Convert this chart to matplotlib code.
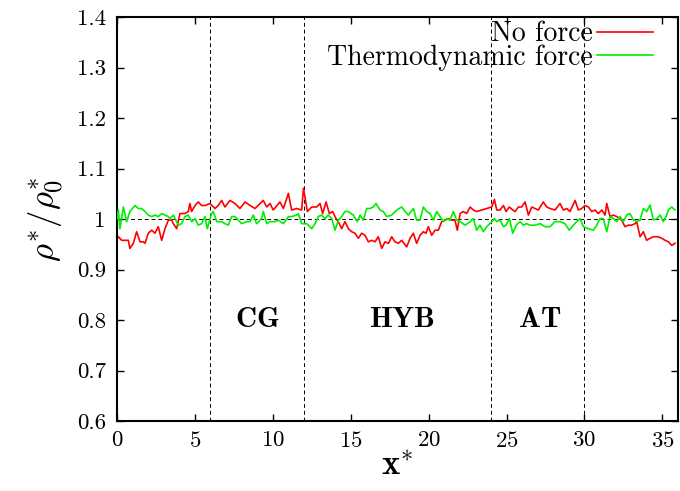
import matplotlib
matplotlib.use("Agg")
import matplotlib.pyplot as plt

plt.rcParams['font.family'] = 'serif'
plt.rcParams['font.serif'] = ['cmr10']
plt.rcParams['mathtext.fontset'] = 'cm'
plt.rcParams['axes.formatter.use_mathtext'] = True

# No force (red)
x_noforce = [0.0, 0.1, 0.3, 0.5, 0.73, 0.83, 1.05, 1.26, 1.48, 1.69, 1.80, 2.01, 2.23, 2.44,
             2.65, 2.87, 3.08, 3.30, 3.51, 3.62, 3.83, 4.04, 4.36, 4.58, 4.68, 4.79, 5.01,
             5.22, 5.43, 5.65, 5.97, 6.29, 6.50, 6.72, 6.93, 7.25, 7.57, 7.89, 8.22, 8.54,
             8.86, 9.39, 9.61, 9.82, 10.03, 10.46, 10.68, 11.0, 11.21, 11.53, 11.85, 11.97,
             12.22, 12.50, 12.82, 13.03, 13.20, 13.42, 13.63, 13.84, 14.06, 14.27, 14.42,
             14.63, 14.85, 15.06, 15.28, 15.49, 15.70, 15.92, 16.13, 16.35, 16.56, 16.77,
             16.99, 17.20, 17.42, 17.63, 17.84, 18.06, 18.27, 18.59, 18.81, 19.02, 19.23,
             19.45, 19.66, 19.83, 19.98, 20.20, 20.41, 20.62, 20.84, 21.05, 21.27, 21.48,
             21.69, 21.84, 22.02, 22.23, 22.44, 22.66, 22.87, 23.08, 23.40, 23.73, 24.05,
             24.22, 24.37, 24.58, 24.80, 24.97, 25.18, 25.40, 25.55, 25.76, 25.97, 26.19,
             26.40, 26.62, 26.83, 27.04, 27.36, 27.58, 27.79, 28.11, 28.43, 28.65, 28.86,
             29.07, 29.40, 29.61, 29.82, 30.04, 30.25, 30.47, 30.68, 30.89, 31.11, 31.32,
             31.43, 31.64, 31.86, 32.07, 32.39, 32.60, 32.82, 33.03, 33.25, 33.35, 33.57,
             33.78, 33.99, 34.21, 34.42, 34.74, 34.96, 35.17, 35.38, 35.60, 35.81]
y_noforce = [0.96, 0.965, 0.958, 0.958, 0.958, 0.942, 0.952, 0.975, 0.955, 0.955, 0.952, 0.972,
             0.978, 0.972, 0.985, 0.958, 0.981, 0.998, 0.998, 0.991, 0.981, 1.011, 1.011,
             1.015, 1.031, 1.015, 1.027, 1.034, 1.027, 1.027, 1.031, 1.021, 1.027, 1.037,
             1.024, 1.037, 1.031, 1.021, 1.034, 1.027, 1.021, 1.037, 1.024, 1.031, 1.018,
             1.034, 1.021, 1.051, 1.018, 1.021, 1.018, 1.061, 1.015, 1.024, 1.024, 1.031,
             1.011, 1.034, 1.011, 1.015, 1.001, 0.991, 0.981, 0.995, 0.981, 0.975, 0.972,
             0.962, 0.972, 0.968, 0.955, 0.958, 0.955, 0.965, 0.942, 0.955, 0.952, 0.965,
             0.955, 0.952, 0.958, 0.945, 0.962, 0.972, 0.952, 0.968, 0.975, 0.972, 0.985,
             0.968, 0.978, 0.978, 0.995, 0.998, 1.001, 0.998, 0.998, 0.978, 1.011, 1.015,
             1.011, 1.024, 1.018, 1.015, 1.018, 1.021, 1.024, 1.039, 1.018, 1.018, 1.027,
             1.015, 1.024, 1.018, 1.015, 1.024, 1.024, 1.034, 1.008, 1.024, 1.021, 1.018,
             1.034, 1.024, 1.021, 1.018, 1.031, 1.018, 1.021, 1.015, 1.037, 1.018, 1.021,
             1.027, 1.024, 1.015, 1.018, 1.011, 1.018, 1.008, 1.031, 1.005, 1.008, 1.005,
             0.998, 0.985, 0.988, 0.988, 0.991, 0.995, 0.965, 0.975, 0.958, 0.962, 0.965,
             0.965, 0.962, 0.958, 0.955, 0.948, 0.952]

# Thermodynamic force (green)
x_thermo = [0.0, 0.09, 0.19, 0.41, 0.62, 0.83, 1.16, 1.37, 1.58, 1.80, 2.01, 2.23, 2.44, 2.65,
            2.87, 3.08, 3.30, 3.40, 3.62, 3.94, 4.15, 4.36, 4.58, 4.79, 5.01, 5.22, 5.43,
            5.65, 5.80, 6.07, 6.18, 6.40, 6.72, 6.93, 7.15, 7.36, 7.57, 7.79, 8.00, 8.32,
            8.54, 8.75, 8.96, 9.28, 9.39, 9.61, 9.82, 10.14, 10.35, 10.68, 11.0, 11.21,
            11.53, 11.64, 11.85, 12.17, 12.28, 12.50, 12.71, 12.92, 13.14, 13.35, 13.56,
            13.78, 13.99, 14.21, 14.42, 14.63, 14.85, 15.17, 15.42, 15.60, 15.81, 16.02,
            16.24, 16.45, 16.62, 16.88, 17.09, 17.31, 17.63, 17.95, 18.27, 18.49, 18.70,
            19.02, 19.23, 19.45, 19.66, 19.88, 20.09, 20.30, 20.52, 20.73, 20.95, 21.16,
            21.37, 21.59, 21.80, 22.02, 22.34, 22.66, 22.87, 23.08, 23.30, 23.51, 23.73,
            24.05, 24.22, 24.37, 24.58, 24.80, 24.97, 25.18, 25.40, 25.62, 25.87, 26.08,
            26.29, 26.51, 26.83, 27.15, 27.47, 27.79, 28.11, 28.43, 28.75, 29.03, 29.29,
            29.50, 29.72, 29.93, 30.25, 30.57, 30.79, 31.00, 31.21, 31.43, 31.64, 31.86,
            32.07, 32.28, 32.50, 32.71, 32.92, 33.14, 33.35, 33.57, 33.78, 33.99, 34.21,
            34.42, 34.64, 34.85, 35.06, 35.28, 35.38, 35.60, 35.81]
y_thermo = [1.0, 1.018, 0.981, 1.024, 0.995, 1.015, 1.027, 1.021, 1.021, 1.015, 1.008, 1.005,
            1.008, 1.005, 1.011, 1.008, 1.005, 1.001, 1.008, 0.988, 0.991, 1.005, 1.008,
            0.995, 1.001, 0.988, 0.991, 1.005, 0.981, 1.011, 1.015, 0.995, 0.995, 0.991,
            0.988, 1.005, 1.005, 0.998, 0.991, 0.995, 0.995, 1.008, 0.991, 1.001, 1.015,
            0.991, 0.995, 0.995, 0.998, 0.991, 1.005, 1.005, 1.008, 1.011, 0.991, 0.991,
            0.988, 0.981, 0.991, 1.005, 1.008, 1.001, 1.008, 1.001, 0.978, 0.998, 1.005,
            1.015, 1.015, 1.008, 0.995, 1.008, 0.998, 1.021, 1.021, 1.024, 1.031, 1.018,
            1.015, 1.005, 1.008, 1.018, 1.024, 1.015, 1.008, 1.021, 0.998, 0.998, 1.024,
            1.015, 1.011, 0.998, 1.015, 1.005, 0.995, 1.001, 0.998, 1.015, 0.998, 0.995,
            0.988, 0.995, 1.001, 0.978, 0.988, 0.975, 0.985, 0.995, 1.001, 0.995, 0.998,
            0.985, 0.988, 1.001, 0.972, 0.988, 0.995, 0.988, 0.991, 0.988, 0.988, 0.991,
            0.985, 0.985, 0.995, 0.995, 0.991, 0.978, 0.988, 0.995, 1.001, 0.985, 0.981,
            0.978, 0.988, 1.001, 1.001, 0.975, 1.005, 1.001, 0.995, 1.005, 0.995, 1.008,
            1.011, 0.998, 0.995, 0.998, 1.021, 1.015, 1.028, 0.998, 1.001, 1.008, 0.995,
            1.008, 1.018, 1.024, 1.018]

region_bounds = [6, 12, 24, 30]
region_names = ['CG', 'HYB', 'AT']
region_x = [9.0, 18.3, 27.1]
region_y = 0.80

xticks = [0, 5, 10, 15, 20, 25, 30, 35]
yticks = [0.6, 0.7, 0.8, 0.9, 1.0, 1.1, 1.2, 1.3, 1.4]
yticklabels = ['0.6', '0.7', '0.8', '0.9', '1', '1.1', '1.2', '1.3', '1.4']

fig = plt.figure(figsize=(6.8, 4.91), dpi=100)
ax = fig.add_axes([0.172, 0.1425, 0.825, 0.8225])

ax.axhline(1.0, color='black', lw=0.7, ls=(0, (4, 3)), zorder=1)
for b in region_bounds:
    ax.axvline(b, color='black', lw=0.7, ls=(0, (4, 3)), zorder=1)

ax.plot(x_noforce, y_noforce, color='#ff0000', lw=1.2, label='No force', zorder=2)
ax.plot(x_thermo, y_thermo, color='#00ee00', lw=1.2, label='Thermodynamic force', zorder=3)

for name, xc in zip(region_names, region_x):
    ax.text(xc, region_y, r'$\mathbf{%s}$' % name, ha='center', va='center', fontsize=21)

ax.set_xlim(0, 36)
ax.set_ylim(0.6, 1.4)
ax.set_xticks(xticks)
ax.set_yticks(yticks)
ax.set_yticklabels(yticklabels)
ax.tick_params(direction='in', length=5, width=1, labelsize=16.5, top=True, right=True)
ax.tick_params(axis='y', pad=8)
ax.tick_params(axis='x', pad=7)
for s in ax.spines.values():
    s.set_linewidth(1.5)

ax.set_xlabel(r'$\mathbf{x}^{*}$', fontsize=25, labelpad=0)
ax.set_ylabel(r'$\rho^{*}/\rho^{*}_{\mathbf{0}}$', fontsize=25, labelpad=8)

ax.legend(loc='upper right', bbox_to_anchor=(0.975, 1.018), frameon=False, markerfirst=False,
          fontsize=20, handlelength=2.0, handletextpad=0.15, labelspacing=-0.1,
          borderaxespad=0.0)

plt.savefig('out.png', dpi=100)
